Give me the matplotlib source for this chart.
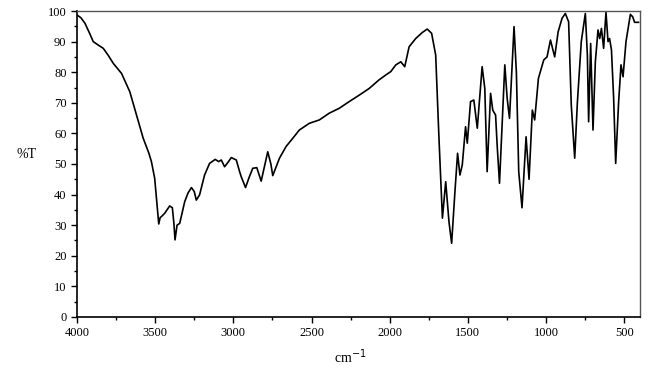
import numpy as np
import matplotlib.pyplot as plt
from matplotlib.ticker import MultipleLocator

# wavenumber (cm-1) and transmittance (%T)
wavenumber = [4000, 3975, 3949, 3920, 3896, 3865, 3832, 3800, 3768, 3715,
              3662, 3619, 3577, 3540, 3524, 3503, 3488, 3477, 3468, 3460,
              3439, 3407, 3390, 3380, 3373, 3360, 3343, 3311, 3290, 3268,
              3250, 3237, 3216, 3184, 3152, 3116, 3094, 3077, 3056, 3035,
              3013, 2981, 2960, 2950, 2922, 2900, 2876, 2850, 2822, 2800,
              2780, 2760, 2748, 2705, 2663, 2620, 2578, 2514, 2450, 2387,
              2323, 2259, 2195, 2131, 2068, 2025, 1993, 1961, 1929, 1904,
              1876, 1834, 1791, 1760, 1732, 1706, 1685, 1663, 1642, 1621,
              1604, 1583, 1566, 1551, 1536, 1515, 1504, 1483, 1462, 1440,
              1409, 1392, 1377, 1355, 1341, 1323, 1313, 1298, 1264, 1249,
              1234, 1205, 1190, 1175, 1154, 1128, 1109, 1088, 1073, 1049,
              1015, 994, 972, 945, 923, 898, 877, 856, 839, 817,
              800, 775, 749, 736, 728, 715, 700, 685, 668, 657,
              646, 632, 617, 604, 594, 582, 568, 555, 536, 521,
              508, 489, 461, 446, 434, 409]
transmittance = [98.7, 97.8, 96.0, 92.8, 90.0, 88.9, 87.8, 85.5, 82.9, 79.6,
                 73.6, 66.0, 58.5, 53.5, 50.8, 45.3, 36.6, 30.4, 32.5, 32.8,
                 33.9, 36.3, 35.7, 30.5, 25.2, 30.0, 30.6, 37.7, 40.5, 42.3,
                 41.0, 38.2, 39.9, 46.4, 50.2, 51.5, 50.8, 51.3, 49.1, 50.5,
                 52.1, 51.3, 47.5, 45.9, 42.3, 45.5, 48.6, 48.8, 44.4, 49.5,
                 54.0, 50.0, 46.2, 51.9, 55.7, 58.4, 61.1, 63.3, 64.4, 66.6,
                 68.2, 70.4, 72.5, 74.7, 77.5, 79.1, 80.2, 82.4, 83.4, 81.8,
                 88.3, 91.0, 93.0, 94.1, 92.7, 85.6, 58.4, 32.3, 44.2, 31.1,
                 24.1, 40.9, 53.5, 46.4, 49.7, 62.2, 56.8, 70.4, 70.9, 61.7,
                 81.8, 74.7, 47.5, 73.1, 67.6, 66.0, 56.2, 43.7, 82.4, 71.5,
                 64.9, 94.9, 80.0, 47.5, 35.7, 58.9, 45.0, 67.6, 64.4, 78.0,
                 84.0, 85.0, 90.5, 85.0, 93.2, 97.6, 99.2, 96.5, 69.3, 51.9,
                 70.0, 90.0, 99.2, 85.6, 63.8, 89.4, 61.1, 83.4, 93.8, 91.0,
                 94.3, 87.8, 99.6, 90.0, 91.0, 87.3, 71.5, 50.2, 70.4, 82.4,
                 78.5, 90.0, 98.9, 98.1, 96.3, 96.3]

plt.rcParams['font.family'] = 'Liberation Serif'

fig = plt.figure(figsize=(6.49, 3.68), dpi=100)
ax = fig.add_axes([0.1186, 0.1386, 0.8674, 0.8315])
ax.plot(wavenumber, transmittance, color='black', lw=1.2)

ax.set_xlim(4000, 400)
ax.set_ylim(0, 100)
ax.xaxis.set_major_locator(MultipleLocator(500))
ax.xaxis.set_minor_locator(MultipleLocator(250))
ax.yaxis.set_major_locator(MultipleLocator(10))
ax.yaxis.set_minor_locator(MultipleLocator(5))
ax.tick_params(which='major', length=4, width=1, labelsize=9)
ax.tick_params(which='minor', length=2.5, width=1)
ax.tick_params(top=False, right=False)

for s in ['left', 'bottom']:
    ax.spines[s].set_linewidth(1.2)
for s in ['top', 'right']:
    ax.spines[s].set_color('#555555')
    ax.spines[s].set_linewidth(1.0)

ax.set_xlabel('cm$^{-1}$', fontsize=10)
ax.xaxis.set_label_coords(0.485, -0.10)
ax.set_ylabel('%T', fontsize=10, rotation=0, va='center')
ax.yaxis.set_label_coords(-0.09, 0.53)

fig.savefig('out.png', dpi=100)
